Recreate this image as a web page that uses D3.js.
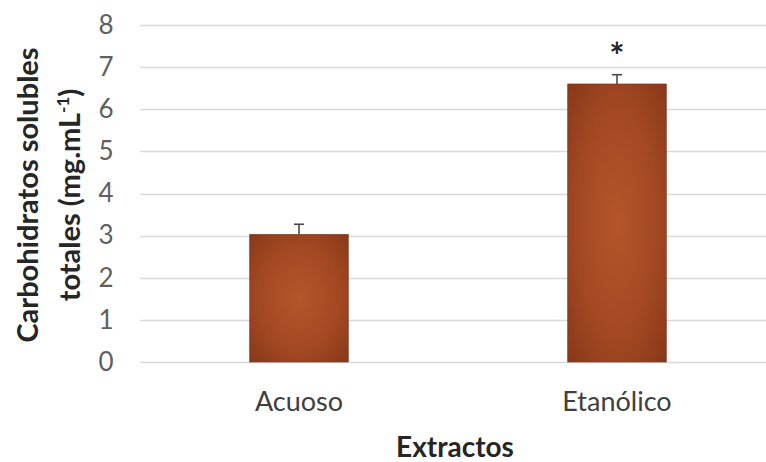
<!DOCTYPE html>
<html>
<head>
<meta charset="utf-8">
<script src="https://cdn.jsdelivr.net/npm/d3@7"></script>
<style>
  html, body { margin: 0; padding: 0; background: #fff; }
  svg { display: block; }
</style>
</head>
<body>
<svg id="chart" width="766" height="462"></svg>
<script>
// Extract categories, mean values and error (upper) values
const categories = ["Acuoso", "Etanólico"];
const values = [3.03, 6.6];
const errors = [0.24, 0.22];
const marks = ["", "*"];
const yTicks = [0, 1, 2, 3, 4, 5, 6, 7, 8];

const svg = d3.select("#chart");
const W = 766, H = 462;
const plot = { left: 140, right: 776, top: 25, bottom: 362 };
const FONT = "Lato, 'Open Sans', sans-serif";

const x = d3.scaleBand()
  .domain(categories)
  .range([plot.left, plot.right])
  .paddingInner(0.69)
  .paddingOuter(0.345);

const y = d3.scaleLinear()
  .domain([0, 8])
  .range([plot.bottom, plot.top]);

// Bar fill: warm brown with a lighter centre
const defs = svg.append("defs");
const grad = defs.append("radialGradient")
  .attr("id", "barFill")
  .attr("cx", "50%").attr("cy", "50%").attr("r", "70%");
grad.append("stop").attr("offset", "0%").attr("stop-color", "#b5562b");
grad.append("stop").attr("offset", "60%").attr("stop-color", "#a24822");
grad.append("stop").attr("offset", "100%").attr("stop-color", "#883819");

// Horizontal gridlines
svg.append("g")
  .selectAll("line")
  .data(yTicks)
  .join("line")
  .attr("x1", plot.left)
  .attr("x2", W)
  .attr("y1", d => Math.round(y(d)) + 0.5)
  .attr("y2", d => Math.round(y(d)) + 0.5)
  .attr("stroke", "#d9d9d9")
  .attr("stroke-width", 1.3);

// Y axis tick labels
const yAxis = d3.axisLeft(y).tickValues(yTicks).tickSize(0).tickPadding(0);
const gy = svg.append("g")
  .attr("transform", `translate(106,0)`)
  .call(yAxis);
gy.select(".domain").remove();
gy.selectAll("text")
  .attr("font-family", FONT)
  .attr("font-size", 26)
  .attr("fill", "#5f5f5f")
  .attr("text-anchor", "middle");

// Bars
svg.append("g")
  .selectAll("rect")
  .data(categories)
  .join("rect")
  .attr("x", d => x(d))
  .attr("width", x.bandwidth())
  .attr("y", (d, i) => y(values[i]))
  .attr("height", (d, i) => y(0) - y(values[i]))
  .attr("fill", "url(#barFill)")
  .attr("stroke", "#7a3216")
  .attr("stroke-width", 0.6);

// Error bars (positive direction) with caps
const eg = svg.append("g").attr("stroke", "#4a4a4a").attr("stroke-width", 1.6);
categories.forEach((c, i) => {
  const cx = x(c) + x.bandwidth() / 2;
  eg.append("line")
    .attr("x1", cx).attr("x2", cx)
    .attr("y1", y(values[i])).attr("y2", y(values[i] + errors[i]));
  eg.append("line")
    .attr("x1", cx - 5).attr("x2", cx + 5)
    .attr("y1", y(values[i] + errors[i])).attr("y2", y(values[i] + errors[i]));
});

// Significance marks
svg.append("g")
  .selectAll("text")
  .data(categories)
  .join("text")
  .attr("x", d => x(d) + x.bandwidth() / 2)
  .attr("y", (d, i) => y(values[i] + errors[i]) - 6)
  .attr("text-anchor", "middle")
  .attr("font-family", FONT)
  .attr("font-weight", "bold")
  .attr("font-size", 36)
  .attr("fill", "#262626")
  .text((d, i) => marks[i]);

// Category labels
const xAxis = d3.axisBottom(x).tickSize(0).tickPadding(0);
const gx = svg.append("g")
  .attr("transform", `translate(0,${plot.bottom + 30})`)
  .call(xAxis);
gx.select(".domain").remove();
gx.selectAll("text")
  .attr("font-family", FONT)
  .attr("font-size", 27)
  .attr("fill", "#404040");

// X axis title
svg.append("text")
  .attr("x", 455)
  .attr("y", 457)
  .attr("text-anchor", "middle")
  .attr("font-family", FONT)
  .attr("font-weight", "bold")
  .attr("font-size", 28)
  .attr("fill", "#262626")
  .text("Extractos");

// Y axis title (two lines, rotated)
const yt = svg.append("text")
  .attr("transform", `translate(38,195) rotate(-90)`)
  .attr("text-anchor", "middle")
  .attr("font-family", FONT)
  .attr("font-weight", "bold")
  .attr("font-size", 29)
  .attr("fill", "#262626");
yt.append("tspan").attr("x", 0).attr("dy", 0).text("Carbohidratos solubles");
const l2 = yt.append("tspan").attr("x", 0).attr("dy", 42);
l2.append("tspan").text("totales (mg.mL");
l2.append("tspan").attr("dy", -11).attr("font-size", 17).text("-1");
l2.append("tspan").attr("dy", 11).text(")");
</script>
</body>
</html>
